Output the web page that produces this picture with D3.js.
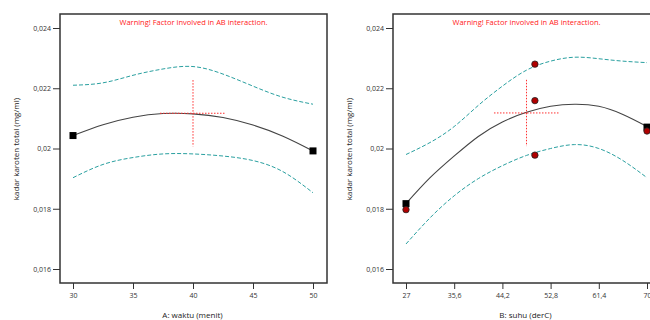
<!DOCTYPE html>
<html>
<head>
<meta charset="utf-8">
<script src="https://cdn.jsdelivr.net/npm/d3@7"></script>
<style>
  body { margin: 0; background: #fff; }
  svg { display: block; font-family: "Open Sans", sans-serif; }
</style>
</head>
<body>
<div id="chart"></div>
<script>
// panel A: waktu (menit)
const waktuX = [30, 32.5, 35, 37.5, 40, 42.5, 45, 47.5, 50];
const waktuMean = [0.02043, 0.02079, 0.02104, 0.02116, 0.02115, 0.02103, 0.02078, 0.02041, 0.01992];
const waktuUpper = [0.0221, 0.02218, 0.02243, 0.02264, 0.02272, 0.02247, 0.02207, 0.0217, 0.02147];
const waktuLower = [0.01903, 0.01947, 0.0197, 0.01982, 0.01982, 0.01975, 0.0196, 0.01923, 0.01853];
const waktuSquares = [[30, 0.02043], [50, 0.01992]];
const waktuCircles = [];
const waktuTicks = [30, 35, 40, 45, 50];

// panel B: suhu (derC)
const suhuX = [27, 31.3, 35.6, 39.9, 44.2, 48.5, 52.8, 57.1, 61.4, 65.7, 70];
const suhuMean = [0.01817, 0.01903, 0.01975, 0.0204, 0.02088, 0.0212, 0.0214, 0.02147, 0.0214, 0.02113, 0.02073];
const suhuUpper = [0.0198, 0.0202, 0.02073, 0.02143, 0.02207, 0.0226, 0.0229, 0.02303, 0.02298, 0.0229, 0.02285];
const suhuLower = [0.01683, 0.0177, 0.01843, 0.019, 0.01943, 0.01977, 0.02, 0.02013, 0.02, 0.0196, 0.01903];
const suhuSquares = [[27, 0.01817], [70, 0.02071]];
const suhuCircles = [[27, 0.01797], [50, 0.0228], [50, 0.02159], [50, 0.01978], [70, 0.02058]];
const suhuTicks = [27, 35.6, 44.2, 52.8, 61.4, 70];

const yTicks = [0.016, 0.018, 0.02, 0.022, 0.024];
const yTitle = 'kadar karoten total (mg/ml)';
const warning = 'Warning! Factor involved in AB interaction.';

const width = 650, height = 320;
const svg = d3.select('#chart').append('svg')
    .attr('width', width)
    .attr('height', height);

const fmt = v => String(+v.toFixed(3)).replace('.', ',');

function drawPanel(p) {
    const g = svg.append('g');
    const x = d3.scaleLinear().domain(p.xDomain).range(p.xRange);
    const y = d3.scaleLinear().domain([0.016, 0.024]).range([269, 28]);
    const box = { left: p.box[0], right: p.box[1], top: 14, bottom: 283 };

    // y axis
    const yAxis = g.append('g')
        .attr('transform', `translate(${box.left},0)`)
        .call(d3.axisLeft(y).tickValues(yTicks).tickSize(7).tickPadding(2).tickFormat(fmt));
    yAxis.select('.domain').remove();
    yAxis.selectAll('line').attr('stroke', '#333');
    yAxis.selectAll('text').attr('font-size', 7).attr('fill', '#333')
        .attr('font-family', '"Open Sans", sans-serif');

    // x axis
    const xAxis = g.append('g')
        .attr('transform', `translate(0,${box.bottom})`)
        .call(d3.axisBottom(x).tickValues(p.ticks).tickSize(6).tickPadding(4).tickFormat(fmt));
    xAxis.select('.domain').remove();
    xAxis.selectAll('line').attr('stroke', '#333');
    xAxis.selectAll('text').attr('font-size', 7).attr('fill', '#333')
        .attr('font-family', '"Open Sans", sans-serif');

    // frame
    g.append('rect')
        .attr('x', box.left).attr('y', box.top)
        .attr('width', box.right - box.left).attr('height', box.bottom - box.top)
        .attr('fill', 'none').attr('stroke', '#333').attr('stroke-width', 1.5);

    // titles
    g.append('text')
        .attr('transform', `translate(${box.left - 43},149) rotate(-90)`)
        .attr('text-anchor', 'middle').attr('dominant-baseline', 'middle')
        .attr('font-size', 8).attr('fill', '#222')
        .text(yTitle);
    g.append('text')
        .attr('x', (box.left + box.right) / 2 - 1).attr('y', 318)
        .attr('text-anchor', 'middle')
        .attr('font-size', 8).attr('fill', '#222')
        .text(p.xTitle);
    g.append('text')
        .attr('x', (box.left + box.right) / 2).attr('y', 25)
        .attr('text-anchor', 'middle')
        .attr('font-size', 7.5).attr('fill', '#ff2020')
        .text(warning);

    const line = d3.line()
        .x(d => x(d[0])).y(d => y(d[1]))
        .curve(d3.curveNatural);
    const pts = vals => p.xs.map((v, i) => [v, vals[i]]);

    [p.upper, p.lower].forEach(vals => {
        g.append('path')
            .attr('d', line(pts(vals)))
            .attr('fill', 'none').attr('stroke', '#2aa0a0')
            .attr('stroke-width', 1).attr('stroke-dasharray', '4,2');
    });
    g.append('path')
        .attr('d', line(pts(p.mean)))
        .attr('fill', 'none').attr('stroke', '#444').attr('stroke-width', 1.1);

    // crosshair
    const c = p.cross;
    g.append('line')
        .attr('x1', x(c.x)).attr('x2', x(c.x))
        .attr('y1', y(c.y + c.dy)).attr('y2', y(c.y - c.dy))
        .attr('stroke', '#ff3030').attr('stroke-width', 1).attr('stroke-dasharray', '1.5,1.5');
    g.append('line')
        .attr('x1', x(c.x - c.dx)).attr('x2', x(c.x + c.dx))
        .attr('y1', y(c.y)).attr('y2', y(c.y))
        .attr('stroke', '#ff3030').attr('stroke-width', 1).attr('stroke-dasharray', '1.5,1.5');

    g.selectAll('rect.pt').data(p.squares).join('rect')
        .attr('class', 'pt')
        .attr('x', d => x(d[0]) - 3.5).attr('y', d => y(d[1]) - 3.5)
        .attr('width', 7).attr('height', 7).attr('fill', '#000');

    g.selectAll('circle.pt').data(p.circles).join('circle')
        .attr('class', 'pt')
        .attr('cx', d => x(d[0])).attr('cy', d => y(d[1]))
        .attr('r', 3.2).attr('fill', '#b00000').attr('stroke', '#222').attr('stroke-width', 0.8);
}

drawPanel({
    xDomain: [30, 50], xRange: [73, 313], box: [60, 327],
    ticks: waktuTicks, xTitle: 'A: waktu  (menit)',
    xs: waktuX, mean: waktuMean, upper: waktuUpper, lower: waktuLower,
    squares: waktuSquares, circles: waktuCircles,
    cross: { x: 40, y: 0.02117, dx: 2.75, dy: 0.0011 }
});

drawPanel({
    xDomain: [27, 70], xRange: [406, 647], box: [393, 660],
    ticks: suhuTicks, xTitle: 'B: suhu (derC)',
    xs: suhuX, mean: suhuMean, upper: suhuUpper, lower: suhuLower,
    squares: suhuSquares, circles: suhuCircles,
    cross: { x: 48.5, y: 0.02118, dx: 5.8, dy: 0.0011 }
});
</script>
</body>
</html>
